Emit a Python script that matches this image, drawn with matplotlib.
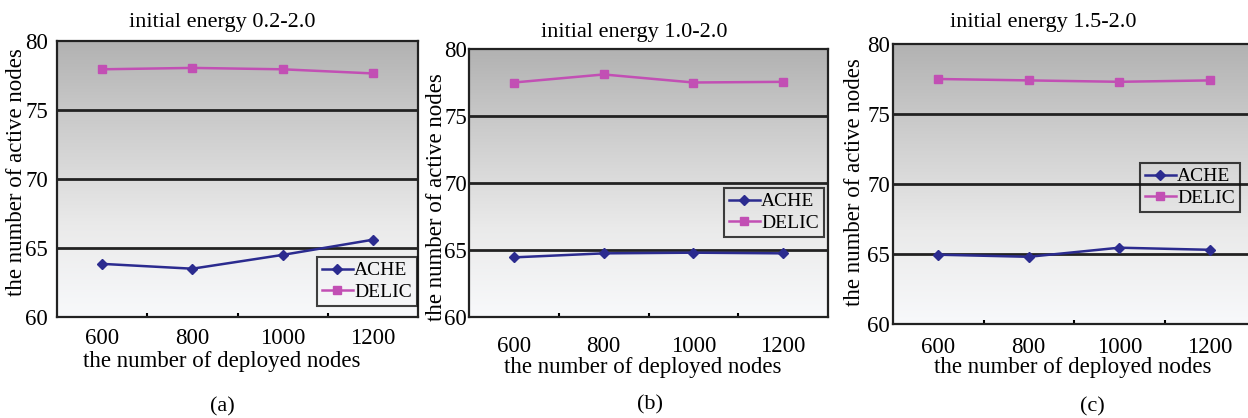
import numpy as np
import matplotlib
matplotlib.use("Agg")
import matplotlib.pyplot as plt
from matplotlib.colors import LinearSegmentedColormap

plt.rcParams['font.family'] = ['Liberation Serif', 'DejaVu Serif']

# data
deployed = ["600", "800", "1000", "1200"]
titles = ["initial energy 0.2-2.0", "initial energy 1.0-2.0", "initial energy 1.5-2.0"]
captions = ["(a)", "(b)", "(c)"]
ache_a = [63.85, 63.5, 64.5, 65.6]
delic_a = [77.95, 78.05, 77.95, 77.65]
ache_b = [64.45, 64.75, 64.8, 64.75]
delic_b = [77.5, 78.1, 77.5, 77.55]
ache_c = [64.95, 64.8, 65.45, 65.3]
delic_c = [77.5, 77.4, 77.3, 77.4]
yticks = [60, 65, 70, 75, 80]

W, H = 1248, 418
fig = plt.figure(figsize=(W / 100, H / 100), dpi=100)

def px(x, y):
    return x / W, 1 - y / H

# panel layout in pixels: left, top, right, bottom
boxes = [(57, 41, 418, 317), (469, 49, 828, 317), (893, 44, 1255, 324)]
title_xy = [(222, 23), (634, 33), (1043, 23)]
xlabel_xy = [(222, 362), (643, 368), (1073, 368)]
ylabel_xy = [(17, 172), (436, 197), (855, 182)]
cap_xy = [(222, 407), (650, 405), (1092, 407)]
legend_xy = [(317, 257), (724, 188), (1140, 163)]
xpad = [8, 13.5, 9.5]
ypad = [6.5, 1.5, 2]

cmap = LinearSegmentedColormap.from_list(
    "bg", ["#f8f9fb", "#eaeaea", "#cfcfcf", "#b2b2b2"])

series = [(ache_a, delic_a), (ache_b, delic_b), (ache_c, delic_c)]
x = np.arange(len(deployed))

for i, (ache, delic) in enumerate(series):
    l, t, r, b = boxes[i]
    ax = fig.add_axes([l / W, 1 - b / H, (r - l) / W, (b - t) / H])
    grad = np.linspace(0, 1, 256).reshape(-1, 1)
    ax.imshow(grad, cmap=cmap, aspect='auto', extent=[0, 1, 0, 1],
              transform=ax.transAxes, origin='lower', zorder=0)
    for g in [65, 70, 75]:
        ax.axhline(g, color='#222222', lw=2, zorder=1)
    ax.plot(x, ache, color='#2b2b8f', lw=1.8, marker='D', ms=5,
            label='ACHE', zorder=3)
    ax.plot(x, delic, color='#c24fb4', lw=1.8, marker='s', ms=5.5,
            label='DELIC', zorder=3)
    ax.set_xlim(-0.5, len(deployed) - 0.5)
    ax.set_ylim(60, 80)
    ax.set_yticks(yticks)
    ax.set_xticks(x)
    ax.set_xticklabels(deployed)
    ax.set_xticks(x[:-1] + 0.5, minor=True)
    ax.tick_params(axis='x', which='major', length=0, pad=xpad[i], labelsize=16.5)
    ax.tick_params(axis='x', which='minor', direction='in', length=3, width=1.5)
    ax.tick_params(axis='y', length=0, pad=ypad[i], labelsize=16.5)
    for s in ax.spines.values():
        s.set_linewidth(1.6)
        s.set_color('#222222')
        s.set_zorder(4)

    lx, ly = px(*legend_xy[i])
    leg = ax.legend(loc='upper left', bbox_to_anchor=(lx, ly),
                    bbox_transform=fig.transFigure, borderaxespad=0,
                    fontsize=14, frameon=True, fancybox=False,
                    handlelength=1.6, handletextpad=0.05, borderpad=0.25,
                    labelspacing=0.2)
    leg.get_frame().set_edgecolor('#111111')
    leg.get_frame().set_linewidth(1.5)
    leg.get_frame().set_facecolor('none')
    leg.set_zorder(5)

    fig.text(*px(*title_xy[i]), titles[i], ha='center', va='center', fontsize=16)
    fig.text(*px(*xlabel_xy[i]), "the number of deployed nodes",
             ha='center', va='center', fontsize=16.5)
    fig.text(*px(*ylabel_xy[i]), "the number of active nodes", rotation=90,
             ha='center', va='center', fontsize=16.5)
    fig.text(*px(*cap_xy[i]), captions[i], ha='center', va='center', fontsize=16)

fig.savefig("out.png", dpi=100)
